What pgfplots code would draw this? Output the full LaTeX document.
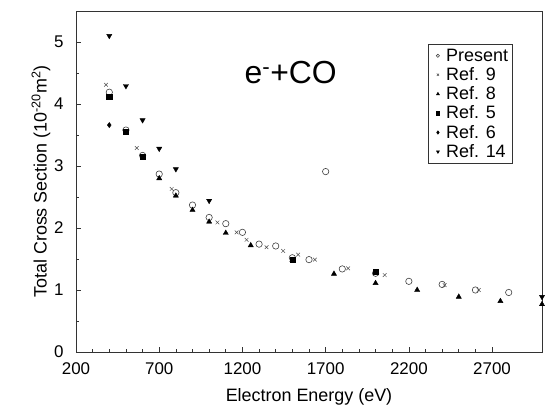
\documentclass[border=0pt]{standalone}
\usepackage{pgfplots}
\pgfplotsset{compat=1.18}
\usepackage{fontspec}
\setmainfont{Liberation Sans}
\begin{document}
\begin{tikzpicture}
\useasboundingbox (0bp,0bp) rectangle (547bp,410bp);
\begin{axis}[
  at={(76bp,58bp)}, anchor=south west,
  scale only axis, width=466bp, height=341bp,
  xmin=200, xmax=3000, ymin=0, ymax=5.5,
  xtick={200,700,1200,1700,2200,2700},
  ytick={0,1,2,3,4,5},
  minor x tick num=4, minor y tick num=1,
  tick align=inside, xtick pos=left, ytick pos=left,
  major tick length=5bp, minor tick length=3bp,
  axis line style={line width=0.7bp, black!80},
  tick style={line width=0.6bp, black!80},
  /pgf/number format/assume math mode=true,
  /pgf/number format/1000 sep={},
  tick label style={font=\fontsize{17}{19}\selectfont},
  xticklabel style={yshift=-7bp},
  yticklabel style={xshift=-9bp},
  xlabel={Electron Energy (eV)},
  ylabel={Total Cross Section (10\textsuperscript{-20}m\textsuperscript{2})},
  label style={font=\fontsize{18}{20}\selectfont},
  xlabel style={yshift=-7bp},
  ylabel style={yshift=-3bp},
  clip=false,
  legend style={at={(rel axis cs:0.755,0.903)}, anchor=north west,
    draw=black!80, line width=0.6bp, font=\fontsize{18}{20}\selectfont,
    row sep=0.8bp, inner sep=2.5bp, legend cell align=left,
    /tikz/every odd column/.append style={column sep=1bp}},
  legend image code/.code={\path (-7bp,0bp) (5bp,0bp); \draw[#1, mark size=1.6bp] plot coordinates {(0bp,0bp)};},
]
\addplot[only marks, mark=o, mark size=3.2bp, black!75, line width=0.6bp] coordinates {
(400,4.19)(500,3.58)(600,3.17)(700,2.87)(800,2.57)(900,2.37)(1000,2.17)(1100,2.07)
(1200,1.93)(1300,1.74)(1400,1.71)(1500,1.52)(1600,1.49)(1700,2.91)(1800,1.34)
(2000,1.27)(2200,1.14)(2400,1.09)(2600,1.00)(2800,0.96)};
\addlegendentry{Present}
\addplot[only marks, mark=x, mark size=2.6bp, black!70, line width=0.5bp] coordinates {
(380,4.31)(565,3.29)(775,2.63)(1050,2.09)(1165,1.93)(1225,1.81)(1345,1.69)(1445,1.63)
(1535,1.57)(1635,1.49)(1835,1.35)(2055,1.24)(2415,1.08)(2620,1.00)};
\addlegendentry{Ref. 9}
\addplot[only marks, mark=triangle*, mark size=3bp, black] coordinates {
(700,2.80)(800,2.52)(900,2.29)(1000,2.10)(1100,1.92)(1250,1.72)(1500,1.48)(1750,1.26)
(2000,1.11)(2250,1.00)(2500,0.89)(2750,0.82)(3000,0.77)};
\addlegendentry{Ref. 8}
\addplot[only marks, mark=square*, mark size=2.6bp, black] coordinates {
(400,4.12)(500,3.55)(600,3.15)(1500,1.49)(2000,1.29)};
\addlegendentry{Ref. 5}
\addplot[only marks, mark=diamond*, mark size=2.6bp, black] coordinates {
(400,3.66)};
\addlegendentry{Ref. 6}
\addplot[only marks, mark=triangle*, mark options={rotate=180}, mark size=3bp, black] coordinates {
(400,5.10)(500,4.29)(600,3.74)(700,3.28)(800,2.95)(1000,2.44)(3000,0.89)};
\addlegendentry{Ref. 14}
\node[font=\fontsize{32}{34}\selectfont] at (axis cs:1490,4.5) {e\textsuperscript{-}+CO};
\end{axis}
\end{tikzpicture}
\end{document}
